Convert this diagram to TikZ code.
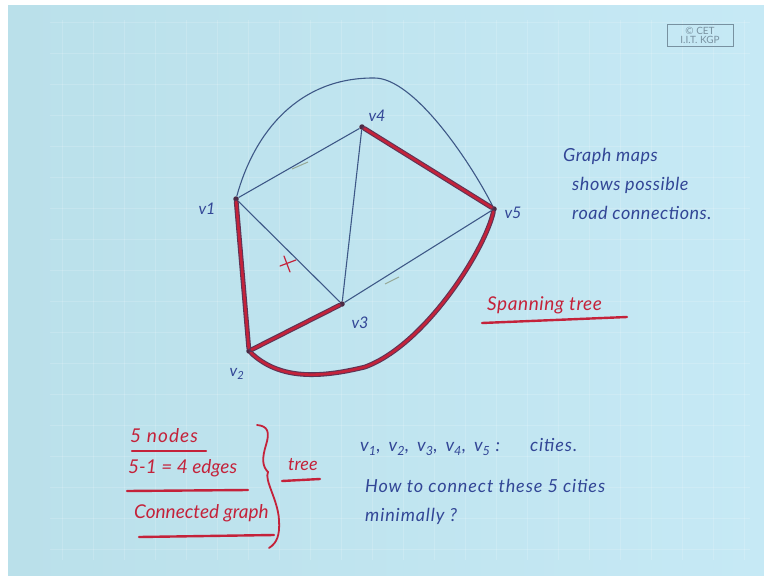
\documentclass[tikz,border=0pt]{standalone}
\usepackage{fontspec}
\setmainfont{Lato}
\definecolor{bgL}{RGB}{186,224,234}
\definecolor{bgM}{RGB}{206,237,248}
\definecolor{bgR}{RGB}{198,233,245}
\definecolor{ink}{RGB}{50,70,150}
\definecolor{edgeblue}{RGB}{62,88,135}
\definecolor{redink}{RGB}{196,34,58}
\definecolor{treeout}{RGB}{95,52,85}
\definecolor{logo}{RGB}{120,145,160}
\definecolor{faint}{RGB}{150,168,150}
\newcommand{\vsub}[1]{v\textsubscript{#1}}
\tikzset{
  vtx/.style={circle, fill=treeout!80!black, inner sep=0pt, minimum size=5.5pt},
  gedge/.style={draw=edgeblue, line width=1.1pt},
  treeedge/.style={draw=treeout, double=redink, double distance=2.6pt, line width=1.1pt, line cap=round},
  bluetxt/.style={text=ink, font=\itshape\fontsize{18}{20}\selectfont\addfontfeature{LetterSpace=3}, inner sep=0pt, anchor=west},
  bluewide/.style={bluetxt, font=\itshape\fontsize{18}{20}\selectfont\addfontfeature{LetterSpace=5}},
  redtxt/.style={text=redink, font=\itshape\fontsize{19}{21}\selectfont, inner sep=0pt, anchor=west},
  redline/.style={draw=redink, line width=2.4pt, line cap=round},
  vlabel/.style={text=ink, font=\itshape\fontsize{16}{18}\selectfont, inner sep=0pt},
}
\begin{document}
\begin{tikzpicture}[x=1pt,y=-1pt]
\useasboundingbox (0,0) rectangle (764,576);
% background
\fill[white] (0,0) rectangle (764,576);
\shade[left color=bgL, middle color=bgM, right color=bgR] (8,5) rectangle (764,576);
\foreach \gx in {62,93,...,744} \draw[white, opacity=0.16, line width=0.8pt] (\gx,20) -- (\gx,560);
\foreach \gy in {22,53,...,560} \draw[white, opacity=0.16, line width=0.8pt] (50,\gy) -- (750,\gy);

% logo
\node[draw=logo, line width=0.8pt, text=logo, font=\fontsize{10}{9.5}\selectfont, align=center,
      minimum width=66pt, minimum height=22pt, inner sep=1pt] (logo) at (700,35.5) {\textcopyright\ CET\\I.I.T. KGP};

% vertices
\node[vtx] (v1) at (236,199) {};
\node[vtx] (v4) at (362,127) {};
\node[vtx] (v5) at (494,209) {};
\node[vtx] (v3) at (342,304) {};
\node[vtx] (v2) at (249,351) {};
\coordinate (top) at (373,78);
\coordinate (bot) at (365,367);

% vertex labels
\node[vlabel] (l1) at (207,209) {v1};
\node[vlabel] (l4) at (377,116) {v4};
\node[vlabel] (l5) at (513,213) {v5};
\node[vlabel] (l3) at (360,323) {v3};
\node[vlabel] (l2) at (237,374) {v\textsubscript{2}};

% graph edges
\draw[gedge] (v1) -- (v4);
\draw[gedge] (v1) -- (v3);
\draw[gedge] (v4) -- (v3);
\draw[gedge] (v3) -- (v5);
\draw[gedge] (v1) .. controls (255,130) and (300,78) .. (top) .. controls (415,76) and (475,170) .. (v5);

% spanning tree edges
\draw[treeedge] (v4) -- (v5);
\draw[treeedge] (v1) -- (v2);
\draw[treeedge] (v2) -- (v3);
\draw[treeedge] (v2) .. controls (280,380) and (320,378) .. (bot) .. controls (425,345) and (485,250) .. (v5);

% marks
\draw[redink, line width=1.2pt, line cap=round] (284,256) -- (290,272) (280,266) -- (296,260);
\draw[faint, line width=1pt] (292,169) -- (308,162) (385,284) -- (399,277);

% right text
\node[bluetxt] (t1) at (563,156) {Graph maps};
\node[bluetxt] (t2) at (572,185) {shows possible};
\node[bluetxt] (t3) at (572,213) {road connections.};

\node[redtxt, font=\itshape\fontsize{19}{21}\selectfont\addfontfeature{LetterSpace=3}] (st) at (487,305) {Spanning tree};
\draw[redline] (482,323) -- (627,317);

% bottom left
\node[redtxt, font=\itshape\fontsize{19}{21}\selectfont\addfontfeature{LetterSpace=6}] (r1) at (130,436) {5 nodes};
\draw[redline] (132,451) -- (206,451);
\node[redtxt] (r2) at (128,468) {5-1 = 4 edges};
\draw[redline] (127,491) -- (248,490);
\node[redtxt] (r3) at (134,513) {Connected graph};
\draw[redline] (139,537) -- (274,535);
\draw[redink, line width=1.8pt, line cap=round]
  (257,425) .. controls (268,426) and (270,432) .. (266,445)
  .. controls (262,458) and (262,466) .. (268,472)
  .. controls (264,480) and (278,500) .. (279,520)
  .. controls (280,535) and (277,543) .. (269,548);
\node[redtxt, font=\itshape\fontsize{18}{20}\selectfont] (tr) at (288,465) {tree};
\draw[redline] (282,481) -- (320,479);

% bottom blue
\node[bluewide] (b1) at (360,447) {\vsub{1},\hspace{8pt}\vsub{2},\hspace{8pt}\vsub{3},\hspace{8pt}\vsub{4},\hspace{8pt}\vsub{5} :\hspace{30pt}cities.};
\node[bluewide] (b2) at (365,486) {How to connect these 5 cities};
\node[bluewide] (b3) at (365,516) {minimally ?};
\end{tikzpicture}
\end{document}
